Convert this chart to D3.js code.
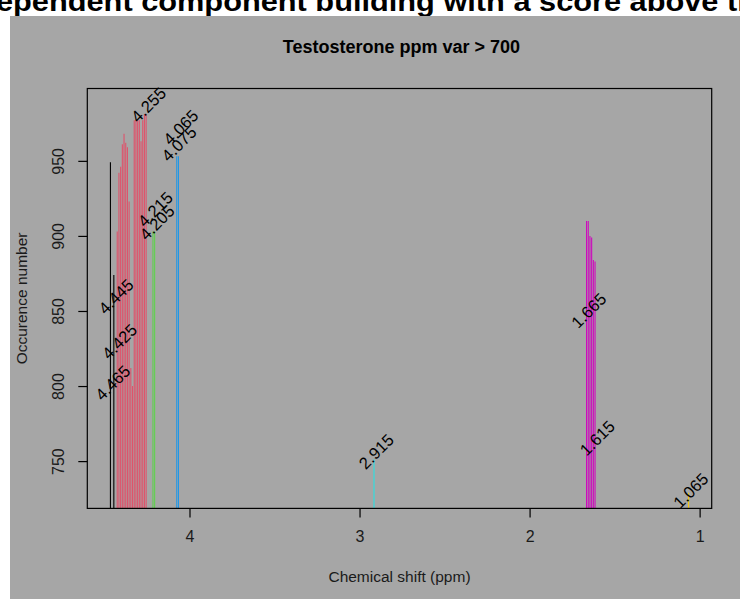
<!DOCTYPE html>
<html>
<head>
<meta charset="utf-8">
<script src="https://cdn.jsdelivr.net/npm/d3@7"></script>
<style>
  html, body { margin: 0; padding: 0; background: #ffffff; }
  svg { display: block; }
  text { font-family: "Liberation Sans", Arial, sans-serif; }
</style>
</head>
<body>
<svg id="chart" width="740" height="599"></svg>
<script>
// Chemical shifts (ppm) of the retained variables, grouped by component
const ppm = [
  4.465, 4.445,
  4.425, 4.415, 4.405, 4.395, 4.385, 4.375, 4.365, 4.355, 4.345,
  4.335, 4.325, 4.315, 4.305, 4.295, 4.285, 4.275, 4.265, 4.255,
  4.215, 4.205,
  4.075, 4.065,
  2.915,
  1.665, 1.655, 1.645, 1.635, 1.625, 1.615,
  1.065
];
// Occurrence number of each variable
const occurrence = [
  949, 874,
  903, 942, 946, 961, 968, 962, 959, 923, 812,
  800, 977, 977, 978, 977, 963, 977, 981, 981,
  903, 903,
  953, 953,
  751,
  910, 910, 900, 899, 884, 883,
  729
];
// Component index (1-based) of each variable
const component = [
  1, 1,
  2, 2, 2, 2, 2, 2, 2, 2, 2,
  2, 2, 2, 2, 2, 2, 2, 2, 2,
  3, 3,
  4, 4,
  5,
  6, 6, 6, 6, 6, 6,
  7
];
// Annotated shifts and the occurrence level their labels sit at
const labelPpm = [4.465, 4.445, 4.425, 4.255, 4.215, 4.205, 4.075, 4.065, 2.915, 1.665, 1.615, 1.065];
const labelOcc = [802.1, 859.6, 829.6, 987.4, 917.8, 908.9, 961.3, 972.4, 756.4, 850.3, 765.3, 730.4];

const xTicks = [4, 3, 2, 1];
const yTicks = [750, 800, 850, 900, 950];
const yLimits = [718.5, 998.2];

const palette = ["#000000", "#DF536B", "#61D04F", "#2297E6", "#28E2E5", "#CD0BBC", "#F5C710"];

const pageTitle = "ependent component building with a score above th";
const plotTitle = "Testosterone ppm var > 700";
const xTitle = "Chemical shift (ppm)";
const yTitle = "Occurence number";

const svg = d3.select("#chart");
const W = 740, H = 599;
const plot = { left: 87.3, right: 711.7, top: 88.5, bottom: 508.4 };

// page heading, cut by the top edge
svg.append("text")
  .attr("x", -4).attr("y", 11)
  .attr("font-size", 27).attr("font-weight", "bold")
  .attr("fill", "#000")
  .attr("textLength", 760).attr("lengthAdjust", "spacingAndGlyphs")
  .text(pageTitle);

// grey device background
svg.append("rect")
  .attr("x", 10).attr("y", 16).attr("width", W - 10).attr("height", H - 16)
  .attr("fill", "#a6a6a6");

// x extent padded by 4% like a base graphics plot, reversed axis
const xExt = d3.extent(ppm);
const xPad = (xExt[1] - xExt[0]) * 0.04;
const x = d3.scaleLinear()
  .domain([xExt[1] + xPad, xExt[0] - xPad])
  .range([plot.left, plot.right]);
const y = d3.scaleLinear()
  .domain(yLimits)
  .range([plot.bottom, plot.top]);

svg.append("defs").append("clipPath").attr("id", "plotclip")
  .append("rect")
  .attr("x", plot.left).attr("y", plot.top)
  .attr("width", plot.right - plot.left).attr("height", plot.bottom - plot.top);

// vertical lines (type "h")
const data = ppm.map((p, i) => ({ p, o: occurrence[i], c: component[i] }));
svg.append("g").attr("clip-path", "url(#plotclip)")
  .selectAll("line").data(data).enter().append("line")
  .attr("x1", d => x(d.p)).attr("x2", d => x(d.p))
  .attr("y1", plot.bottom).attr("y2", d => y(d.o))
  .attr("stroke", d => palette[d.c - 1])
  .attr("stroke-width", 1.1);

// shift labels, rotated 45 degrees
svg.append("g").selectAll("text").data(labelPpm).enter().append("text")
  .attr("transform", (p, i) => `translate(${x(p) + 2.3},${y(labelOcc[i])}) rotate(-45)`)
  .attr("text-anchor", "middle").attr("dy", "0.35em")
  .attr("font-size", 16.5).attr("fill", "#000")
  .text(p => p.toFixed(3));

// plot frame
svg.append("rect")
  .attr("x", plot.left).attr("y", plot.top)
  .attr("width", plot.right - plot.left).attr("height", plot.bottom - plot.top)
  .attr("fill", "none").attr("stroke", "#000").attr("stroke-width", 1.2);

// x axis
const xAxis = svg.append("g").attr("transform", `translate(0,${plot.bottom})`)
  .call(d3.axisBottom(x).tickValues(xTicks).tickSize(9).tickSizeOuter(0).tickFormat(d3.format("d")));
xAxis.select(".domain").remove();
xAxis.selectAll(".tick line").attr("stroke", "#000").attr("stroke-width", 1.2);
xAxis.selectAll(".tick text")
  .attr("y", 28).attr("dy", "0.35em")
  .attr("font-size", 16).attr("fill", "#1a1a1a")
  .attr("font-family", "Liberation Sans, Arial, sans-serif");

// y axis with labels parallel to the axis
const yAxis = svg.append("g").attr("transform", `translate(${plot.left},0)`)
  .call(d3.axisLeft(y).tickValues(yTicks).tickSize(9).tickSizeOuter(0).tickFormat(d3.format("d")));
yAxis.select(".domain").remove();
yAxis.selectAll(".tick line").attr("stroke", "#000").attr("stroke-width", 1.2);
yAxis.selectAll(".tick text")
  .attr("x", null).attr("dy", null)
  .attr("transform", "translate(-29,0) rotate(-90)")
  .attr("text-anchor", "middle").attr("dy", "0.35em")
  .attr("font-size", 16).attr("fill", "#1a1a1a")
  .attr("font-family", "Liberation Sans, Arial, sans-serif");

// titles
svg.append("text")
  .attr("x", (plot.left + plot.right) / 2 + 2).attr("y", 53)
  .attr("text-anchor", "middle")
  .attr("font-size", 18).attr("font-weight", "bold").attr("fill", "#000")
  .text(plotTitle);

svg.append("text")
  .attr("x", (plot.left + plot.right) / 2).attr("y", 582)
  .attr("text-anchor", "middle")
  .attr("font-size", 15.5).attr("fill", "#1a1a1a")
  .text(xTitle);

svg.append("text")
  .attr("transform", `translate(27,${(plot.top + plot.bottom) / 2}) rotate(-90)`)
  .attr("text-anchor", "middle")
  .attr("font-size", 15.5).attr("fill", "#1a1a1a")
  .text(yTitle);
</script>
</body>
</html>
